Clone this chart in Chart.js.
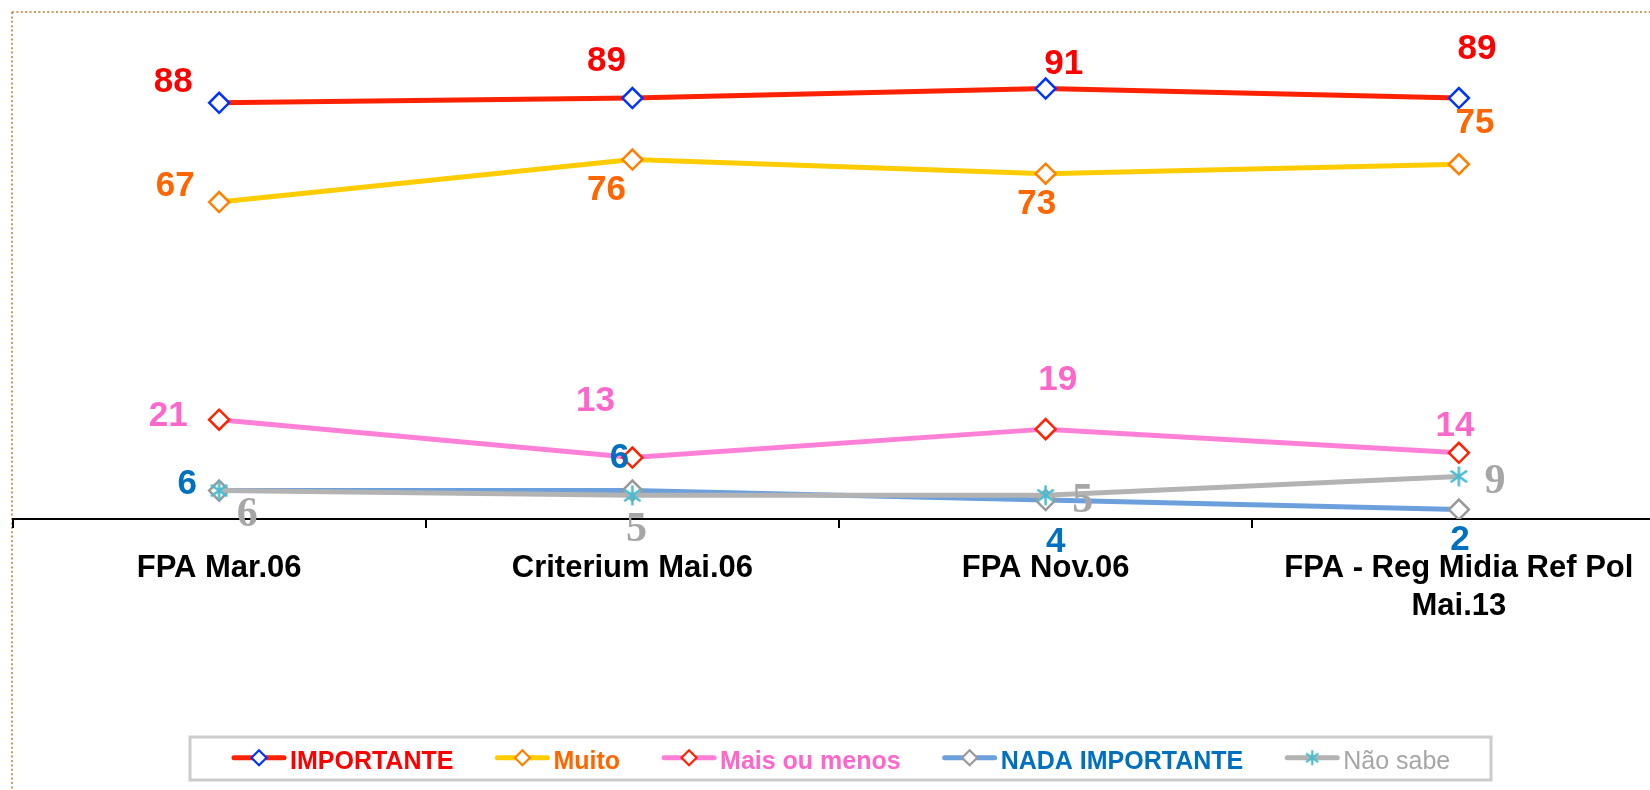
<!DOCTYPE html>
<html>
<head>
<meta charset="utf-8">
<script src="https://cdn.jsdelivr.net/npm/chart.js@4.4.0/dist/chart.umd.min.js"></script>
<style>
html,body{margin:0;padding:0;overflow:hidden;background:#fff;width:1650px;height:790px}
#wrap{position:absolute;left:0;top:0;width:1678px;height:790px}
</style>
</head>
<body>
<div id="wrap"><canvas id="c" width="1678" height="790"></canvas></div>
<script>
// ---- data ----
const categories = [['FPA Mar.06'], ['Criterium Mai.06'], ['FPA Nov.06'], ['FPA - Reg Midia Ref Pol', 'Mai.13']];
const seriesNames = ['IMPORTANTE', 'Muito', 'Mais ou menos', 'NADA IMPORTANTE', 'Não sabe'];
const importante = [88, 89, 91, 89];
const muito = [67, 76, 73, 75];
const maisOuMenos = [21, 13, 19, 14];
const nadaImportante = [6, 6, 4, 2];
const naoSabe = [6, 5, 5, 9];
const seriesValues = [importante, muito, maisOuMenos, nadaImportante, naoSabe];

// ---- styles ----
const SANS = '"Liberation Sans", Arial, sans-serif';
const SERIF = '"Liberation Serif", "Times New Roman", serif';
const lineColors = ['#FF2200', '#FFCC00', '#FF80D6', '#6CA0DC', '#B3B3B3'];
const markerColors = ['#0033FF', '#FF8000', '#FF2200', '#999999', '#4BBCD0'];
const labelColors = ['#FF0000', '#FF6600', '#FF66CC', '#0070C0', '#A6A6A6'];
const labelFonts = [
  {family: SANS, size: 35, weight: 'bold', capRatio: 0.716},
  {family: SANS, size: 35, weight: 'bold', capRatio: 0.716},
  {family: SANS, size: 35, weight: 'bold', capRatio: 0.716},
  {family: SANS, size: 35, weight: 'bold', capRatio: 0.716},
  {family: SERIF, size: 42, weight: 'bold', capRatio: 0.676}
];
// offsets of each value label's centre from its point (pixels)
const labelOffsets = [
  [[-46, -23], [-26, -40], [18, -27], [18, -52]],
  [[-44, -19], [-26, 28], [-9, 28], [16, -44]],
  [[-51, -6], [-37, -59], [12, -52], [-4, -29]],
  [[-32, -9], [-13, -35], [10, 39], [1, 28]],
  [[28, 21], [4, 31], [37, 2], [36, 2]]
];

function makeStar(r, color, lw) {
  const s = Math.ceil(r * 2 + lw * 2);
  const c = document.createElement('canvas');
  c.width = s; c.height = s;
  const g = c.getContext('2d');
  g.strokeStyle = color; g.lineWidth = lw; g.lineCap = 'butt';
  g.translate(s / 2, s / 2);
  [90, 35, 145].forEach(a => {
    const t = a * Math.PI / 180;
    g.beginPath();
    g.moveTo(-Math.cos(t) * r, -Math.sin(t) * r);
    g.lineTo(Math.cos(t) * r, Math.sin(t) * r);
    g.stroke();
  });
  return c;
}
const starBig = makeStar(10, markerColors[4], 2.5);
const starSmall = makeStar(7.5, markerColors[4], 2.2);

const datasets = seriesNames.map((name, i) => ({
  label: name,
  data: seriesValues[i],
  borderColor: lineColors[i],
  backgroundColor: lineColors[i],
  borderWidth: 5,
  tension: 0,
  fill: false,
  pointStyle: i === 4 ? starBig : 'rectRot',
  pointRadius: 10,
  pointHoverRadius: 10,
  pointBorderColor: markerColors[i],
  pointBackgroundColor: '#FFFFFF',
  pointBorderWidth: 2.5,
  order: 5 - i
}));

// ---- plugins ----
const framePlugin = {
  id: 'frame',
  beforeDraw(chart) {
    const ctx = chart.ctx;
    ctx.save();
    ctx.fillStyle = '#FFFFFF';
    ctx.fillRect(0, 0, chart.width, chart.height);
    ctx.strokeStyle = '#D09A5C';
    ctx.lineWidth = 2;
    ctx.setLineDash([2, 2.4]);
    ctx.beginPath();
    ctx.moveTo(12, 12); ctx.lineTo(chart.width, 12);
    ctx.moveTo(12, 12); ctx.lineTo(12, chart.height);
    ctx.stroke();
    ctx.restore();
  }
};

const valueLabelPlugin = {
  id: 'valueLabels',
  afterDatasetsDraw(chart) {
    const ctx = chart.ctx;
    ctx.save();
    ctx.textAlign = 'center';
    ctx.textBaseline = 'alphabetic';
    chart.data.datasets.forEach((ds, i) => {
      const meta = chart.getDatasetMeta(i);
      const f = labelFonts[i];
      ctx.font = f.weight + ' ' + f.size + 'px ' + f.family;
      ctx.fillStyle = labelColors[i];
      meta.data.forEach((pt, j) => {
        const off = labelOffsets[i][j];
        const x = pt.x + off[0];
        const y = pt.y + off[1] + f.size * f.capRatio / 2;
        ctx.fillText(String(ds.data[j]), x, y);
      });
    });
    ctx.restore();
  }
};

const legendPlugin = {
  id: 'boxLegend',
  afterDraw(chart) {
    const ctx = chart.ctx;
    const size = 25, sampleW = 54, gapText = 4, gapItem = 42;
    const lineY = 757.7, baseY = 769;
    ctx.save();
    ctx.strokeStyle = '#CCCCCC';
    ctx.lineWidth = 3;
    ctx.strokeRect(190, 737, 1301, 43);
    let x = 232;
    chart.data.datasets.forEach((ds, i) => {
      ctx.strokeStyle = lineColors[i];
      ctx.lineWidth = 5;
      ctx.lineCap = 'round';
      ctx.beginPath();
      ctx.moveTo(x + 2, lineY); ctx.lineTo(x + sampleW - 2, lineY);
      ctx.stroke();
      const cx = x + sampleW / 2;
      if (i === 4) {
        ctx.drawImage(starSmall, cx - starSmall.width / 2, lineY - starSmall.height / 2);
      } else {
        ctx.fillStyle = '#FFFFFF';
        ctx.strokeStyle = markerColors[i];
        ctx.lineWidth = 2.2;
        if (Chart.helpers && Chart.helpers.drawPoint) {
          Chart.helpers.drawPoint(ctx, {pointStyle: 'rectRot', radius: 7.5, rotation: 0, borderWidth: 2.2}, cx, lineY);
        }
      }
      ctx.font = (i === 4 ? 'normal ' : 'bold ') + size + 'px ' + SANS;
      ctx.fillStyle = labelColors[i];
      ctx.textAlign = 'left';
      ctx.textBaseline = 'alphabetic';
      const tx = x + sampleW + gapText;
      ctx.fillText(ds.label, tx, baseY);
      x = tx + ctx.measureText(ds.label).width + gapItem;
    });
    ctx.restore();
  }
};

new Chart(document.getElementById('c'), {
  type: 'line',
  data: { labels: categories, datasets: datasets },
  options: {
    responsive: false,
    animation: false,
    devicePixelRatio: 1,
    layout: { padding: { left: 10, right: 2, top: 46, bottom: 0 } },
    plugins: { legend: { display: false }, tooltip: { enabled: false } },
    scales: {
      x: {
        type: 'category',
        offset: true,
        grid: { display: true, drawOnChartArea: false, drawTicks: true, tickLength: 9, color: '#000000', lineWidth: 2, offset: true },
        border: { display: true, color: '#000000', width: 2 },
        ticks: {
          color: '#000000',
          font: { family: SANS, size: 31, weight: 'bold', lineHeight: 1.24 },
          padding: 21,
          maxRotation: 0, minRotation: 0, autoSkip: false
        },
        afterFit(scale) {
          scale.height = 271;
          scale.paddingLeft = 0;
          scale.paddingRight = 0;
        }
      },
      y: { display: false, min: 0, max: 100 }
    }
  },
  plugins: [framePlugin, valueLabelPlugin, legendPlugin]
});
</script>
</body>
</html>
